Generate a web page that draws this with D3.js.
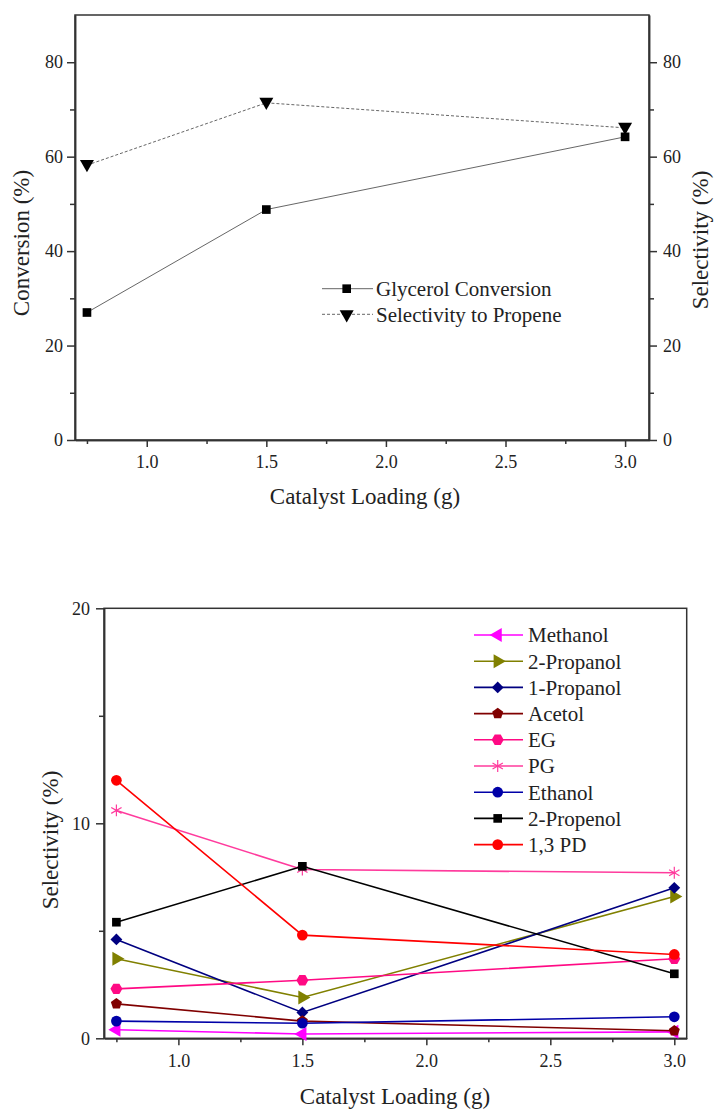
<!DOCTYPE html>
<html lang="en">
<head>
    <meta charset="UTF-8">
    <title>Catalyst Loading</title>
    <script src="https://cdn.jsdelivr.net/npm/d3@7"></script>
    <style>
        body { margin: 0; background: #fff; }
        text { font-family: "Liberation Serif", "Times New Roman", serif; fill: #222; }
        .axis text { font-family: "Liberation Serif", "Times New Roman", serif; font-size: 18px; }
        .axis path, .axis line { stroke: #333; stroke-width: 1.5; }
    </style>
</head>
<body>
<script type="text/javascript">
var loading = [0.75, 1.5, 3.0];
var glycerolConversion = [27.0, 48.8, 64.2];
var propeneSelectivity = [58.2, 71.4, 66.1];

var productNames = ["Methanol", "2-Propanol", "1-Propanol", "Acetol", "EG", "PG", "Ethanol", "2-Propenol", "1,3 PD"];
var methanol = [0.4, 0.2, 0.3];
var propanol2 = [3.7, 1.9, 6.6];
var propanol1 = [4.6, 1.2, 7.0];
var acetol = [1.6, 0.8, 0.35];
var eg = [2.3, 2.7, 3.7];
var pg = [10.6, 7.85, 7.7];
var ethanol = [0.8, 0.7, 1.0];
var propenol2 = [5.4, 8.0, 3.0];
var pd13 = [12.0, 4.8, 3.9];

var topTicksX = [1.0, 1.5, 2.0, 2.5, 3.0];
var topMinorX = [0.75, 1.25, 1.75, 2.25, 2.75];
var topTicksY = [0, 20, 40, 60, 80];
var topMinorY = [10, 30, 50, 70];
var botTicksY = [0, 10, 20];
var botMinorY = [5, 15];

var productSeries = [methanol, propanol2, propanol1, acetol, eg, pg, ethanol, propenol2, pd13];
var productColors = ["#ff00ff", "#808000", "#000080", "#800000", "#ff0a84", "#ff3b9d", "#0000a8", "#000000", "#ff0000"];
var productShapes = ["left", "right", "diamond", "pentagon", "hexagon", "asterisk", "circle", "square", "circle"];

var svg = d3.select("body").append("svg")
    .attr("width", 714)
    .attr("height", 1109);

function polygon(n, r, rot) {
    var pts = [];
    for (var i = 0; i < n; i++) {
        var a = rot + i * 2 * Math.PI / n;
        pts.push([r * Math.cos(a), r * Math.sin(a)]);
    }
    return "M" + pts.join("L") + "Z";
}

function marker(g, shape, color, x, y) {
    var t = "translate(" + x + "," + y + ")";
    if (shape == "asterisk") {
        g.append("path").attr("transform", t)
            .attr("d", d3.symbol().type(d3.symbolAsterisk).size(100)())
            .attr("fill", "none").attr("stroke", color).attr("stroke-width", 1.2);
        return;
    }
    var d;
    if (shape == "circle") d = d3.symbol().type(d3.symbolCircle).size(90)();
    else if (shape == "square") d = d3.symbol().type(d3.symbolSquare).size(75)();
    else if (shape == "diamond") d = d3.symbol().type(d3.symbolSquare).size(70)();
    else if (shape == "left" || shape == "right" || shape == "down") d = d3.symbol().type(d3.symbolTriangle).size(85)();
    else if (shape == "pentagon") d = polygon(5, 5.8, -Math.PI / 2);
    else if (shape == "hexagon") d = polygon(6, 6, 0);
    if (shape == "diamond") t += " rotate(45)";
    if (shape == "left") t += " rotate(-90)";
    if (shape == "right") t += " rotate(90)";
    if (shape == "down") t += " rotate(180)";
    g.append("path").attr("transform", t).attr("d", d).attr("fill", color);
}

// ---- top chart
var x1 = d3.scaleLinear().domain([0.7, 3.1]).range([75, 649]);
var y1 = d3.scaleLinear().domain([0, 90]).range([440, 15]);
var g1 = svg.append("g");

g1.append("rect").attr("x", 75).attr("y", 15).attr("width", 574).attr("height", 425)
    .attr("fill", "none").attr("stroke", "#333").attr("stroke-width", 1.5);

g1.append("g").attr("class", "axis").attr("transform", "translate(0,440)")
    .call(d3.axisBottom(x1).tickValues(topTicksX).tickFormat(d3.format(".1f")).tickSize(7).tickSizeOuter(0).tickPadding(8));
g1.append("g").attr("class", "axis").attr("transform", "translate(0,440)")
    .call(d3.axisBottom(x1).tickValues(topMinorX).tickFormat("").tickSize(4).tickSizeOuter(0));
g1.append("g").attr("class", "axis").attr("transform", "translate(75,0)")
    .call(d3.axisLeft(y1).tickValues(topTicksY).tickSize(8).tickSizeOuter(0).tickPadding(4));
g1.append("g").attr("class", "axis").attr("transform", "translate(75,0)")
    .call(d3.axisLeft(y1).tickValues(topMinorY).tickFormat("").tickSize(5).tickSizeOuter(0));
g1.append("g").attr("class", "axis").attr("transform", "translate(649,0)")
    .call(d3.axisRight(y1).tickValues(topTicksY).tickSize(8).tickSizeOuter(0).tickPadding(6));
g1.append("g").attr("class", "axis").attr("transform", "translate(649,0)")
    .call(d3.axisRight(y1).tickValues(topMinorY).tickFormat("").tickSize(5).tickSizeOuter(0));

var line1 = d3.line().x(function(d) { return x1(d[0]); }).y(function(d) { return y1(d[1]); });
var convData = d3.zip(loading, glycerolConversion);
var selData = d3.zip(loading, propeneSelectivity);

g1.append("path").attr("d", line1(selData)).attr("fill", "none")
    .attr("stroke", "#555").attr("stroke-width", 0.9).attr("stroke-dasharray", "3,2");
g1.append("path").attr("d", line1(convData)).attr("fill", "none")
    .attr("stroke", "#555").attr("stroke-width", 0.9);
selData.forEach(function(d) { marker(g1, "down", "#000", x1(d[0]), y1(d[1]) - 1); });
convData.forEach(function(d) { marker(g1, "square", "#000", x1(d[0]), y1(d[1])); });

var topLegend = [["Glycerol Conversion", "square", null], ["Selectivity to Propene", "down", "3,2"]];
topLegend.forEach(function(item, i) {
    var ly = 288.7 + i * 25.6;
    g1.append("line").attr("x1", 322).attr("x2", 373).attr("y1", ly).attr("y2", ly)
        .attr("stroke", "#555").attr("stroke-width", 0.9).attr("stroke-dasharray", item[2]);
    marker(g1, item[1], "#000", 346.7, ly);
    g1.append("text").attr("x", 376).attr("y", ly).attr("dy", "0.35em")
        .style("font-size", "21px").text(item[0]);
});

g1.append("text").attr("transform", "translate(29,243) rotate(-90)")
    .attr("text-anchor", "middle").style("font-size", "23px").text("Conversion (%)");
g1.append("text").attr("transform", "translate(708,240) rotate(-90)")
    .attr("text-anchor", "middle").style("font-size", "23px").text("Selectivity (%)");
g1.append("text").attr("x", 365).attr("y", 504)
    .attr("text-anchor", "middle").style("font-size", "23px").text("Catalyst Loading (g)");

// ---- bottom chart
var x2 = d3.scaleLinear().domain([0.7, 3.05]).range([104, 686.7]);
var y2 = d3.scaleLinear().domain([0, 20]).range([1038.3, 608.3]);
var g2 = svg.append("g");

g2.append("rect").attr("x", 104).attr("y", 608.3).attr("width", 582.7).attr("height", 430)
    .attr("fill", "none").attr("stroke", "#333").attr("stroke-width", 1.5);

g2.append("g").attr("class", "axis").attr("transform", "translate(0,1038.3)")
    .call(d3.axisBottom(x2).tickValues(topTicksX).tickFormat(d3.format(".1f")).tickSize(7).tickSizeOuter(0).tickPadding(9));
g2.append("g").attr("class", "axis").attr("transform", "translate(0,1038.3)")
    .call(d3.axisBottom(x2).tickValues(topMinorX).tickFormat("").tickSize(4).tickSizeOuter(0));
g2.append("g").attr("class", "axis").attr("transform", "translate(104,0)")
    .call(d3.axisLeft(y2).tickValues(botTicksY).tickSize(8).tickSizeOuter(0).tickPadding(6));
g2.append("g").attr("class", "axis").attr("transform", "translate(104,0)")
    .call(d3.axisLeft(y2).tickValues(botMinorY).tickFormat("").tickSize(5).tickSizeOuter(0));

var line2 = d3.line().x(function(d) { return x2(d[0]); }).y(function(d) { return y2(d[1]); });
productSeries.forEach(function(vals, k) {
    var pts = d3.zip(loading, vals);
    g2.append("path").attr("d", line2(pts)).attr("fill", "none")
        .attr("stroke", productColors[k]).attr("stroke-width", 1.6);
    pts.forEach(function(d) { marker(g2, productShapes[k], productColors[k], x2(d[0]), y2(d[1])); });
});

productNames.forEach(function(name, k) {
    var ly = 635 + k * 26.2;
    g2.append("line").attr("x1", 474).attr("x2", 523).attr("y1", ly).attr("y2", ly)
        .attr("stroke", productColors[k]).attr("stroke-width", 1.6);
    marker(g2, productShapes[k], productColors[k], 497.7, ly);
    g2.append("text").attr("x", 528).attr("y", ly).attr("dy", "0.35em")
        .style("font-size", "21px").text(name);
});

g2.append("text").attr("transform", "translate(58,840) rotate(-90)")
    .attr("text-anchor", "middle").style("font-size", "23px").text("Selectivity (%)");
g2.append("text").attr("x", 395).attr("y", 1104)
    .attr("text-anchor", "middle").style("font-size", "23px").text("Catalyst Loading (g)");
</script>
</body>
</html>
